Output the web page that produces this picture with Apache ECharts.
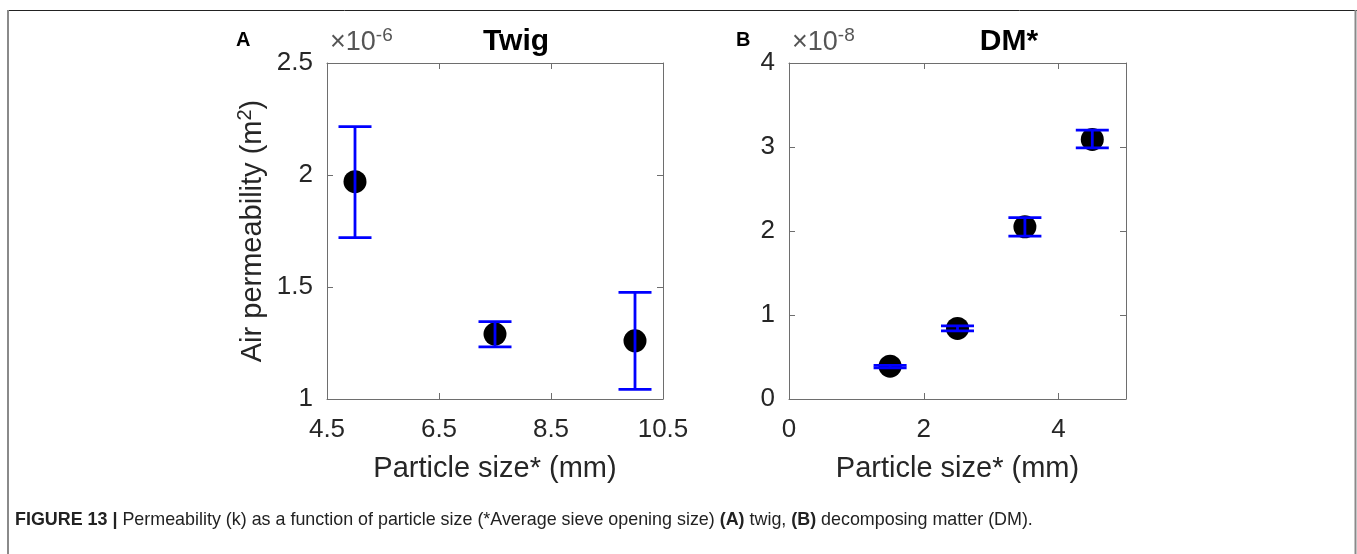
<!DOCTYPE html>
<html><head><meta charset="utf-8">
<script src="https://cdn.jsdelivr.net/npm/echarts@6/dist/echarts.min.js"></script>
<style>html,body{margin:0;padding:0;background:#fff}#c{width:1357px;height:554px}</style>
</head><body><div id="c"></div>
<script>
// Panel A: Twig (values ×10^-6 m²)
const twigX = [5, 7.5, 10];
const twigY = [1.97, 1.29, 1.26];
const twigLo = [1.72, 1.233, 1.043];
const twigHi = [2.216, 1.345, 1.476];
// Panel B: DM* (values ×10^-8 m²)
const dmX = [1.5, 2.5, 3.5, 4.5];
const dmY = [0.39, 0.84, 2.05, 3.09];
const dmLo = [0.37, 0.81, 1.94, 2.99];
const dmHi = [0.40, 0.87, 2.16, 3.20];
// Tick labels
const twigXTicks = [4.5, 6.5, 8.5, 10.5];
const twigYTicks = [1, 1.5, 2, 2.5];
const dmXTicks = [0, 2, 4];
const dmYTicks = [0, 1, 2, 3, 4];

const FONT = 'Liberation Sans, Arial, sans-serif';
const TXT = '#262626';
const AXC = '#6e6e6e';

function axis(kind, grid, pos, min, max, ticks, showLabel, name) {
  const a = {
    type: 'value', gridIndex: grid, position: pos, min: min, max: max,
    axisLine: {show: true, onZero: false, lineStyle: {color: AXC, width: 1}},
    axisTick: {show: true, inside: true, length: 6, customValues: ticks, lineStyle: {color: AXC}},
    axisLabel: {show: showLabel, customValues: ticks, fontFamily: FONT, fontSize: 26, color: TXT,
                margin: kind === 'x' ? 18 : 14},
    splitLine: {show: false}
  };
  if (name) {
    a.name = name.text;
    a.nameLocation = 'middle';
    a.nameGap = name.gap;
    a.nameTextStyle = {fontFamily: FONT, fontSize: 29, color: TXT, rich: name.rich};
  }
  return a;
}

const yName = {
  text: '{a|Air permeability (m}{s|2}{a|)}', gap: 56,
  rich: {a: {fontFamily: FONT, fontSize: 29, color: TXT, lineHeight: 36},
         s: {fontFamily: FONT, fontSize: 20, color: TXT, verticalAlign: 'top', lineHeight: 36}}
};
const xName = {text: 'Particle size* (mm)', gap: 55};

function errItem(params, api) {
  const x = api.value(0), l = api.value(1), h = api.value(2);
  const pl = api.coord([x, l]), ph = api.coord([x, h]);
  const w = 16.5;
  const st = {stroke: '#0000ff', lineWidth: 2.8, fill: null};
  return {type: 'group', children: [
    {type: 'line', shape: {x1: pl[0], y1: pl[1], x2: ph[0], y2: ph[1]}, style: st},
    {type: 'line', shape: {x1: pl[0] - w, y1: pl[1], x2: pl[0] + w, y2: pl[1]}, style: st},
    {type: 'line', shape: {x1: ph[0] - w, y1: ph[1], x2: ph[0] + w, y2: ph[1]}, style: st}
  ]};
}

const supRich = {
  a: {fontFamily: FONT, fontSize: 27, fill: '#555', lineHeight: 34},
  s: {fontFamily: FONT, fontSize: 19, fill: '#555', verticalAlign: 'top', lineHeight: 34}
};
const capFont = 'Liberation Sans, Arial, sans-serif';

const chart = echarts.init(document.getElementById('c'), null, {renderer: 'canvas'});
chart.setOption({
  animation: false,
  backgroundColor: '#fff',
  title: [
    {text: 'Twig', left: 511, top: 22, textAlign: 'center',
     textStyle: {fontFamily: FONT, fontSize: 30, fontWeight: 'bold', color: '#000'}},
    {text: 'DM*', left: 1004, top: 22, textAlign: 'center',
     textStyle: {fontFamily: FONT, fontSize: 30, fontWeight: 'bold', color: '#000'}}
  ],
  grid: [
    {left: 327, top: 63, width: 336, height: 336, containLabel: false},
    {left: 789, top: 63, width: 337, height: 336, containLabel: false}
  ],
  xAxis: [
    axis('x', 0, 'bottom', 4.5, 10.5, twigXTicks, true, xName),
    axis('x', 0, 'top', 4.5, 10.5, twigXTicks, false),
    axis('x', 1, 'bottom', 0, 5, dmXTicks, true, xName),
    axis('x', 1, 'top', 0, 5, dmXTicks, false)
  ],
  yAxis: [
    axis('y', 0, 'left', 1, 2.5, twigYTicks, true, yName),
    axis('y', 0, 'right', 1, 2.5, twigYTicks, false),
    axis('y', 1, 'left', 0, 4, dmYTicks, true),
    axis('y', 1, 'right', 0, 4, dmYTicks, false)
  ],
  series: [
    {type: 'scatter', xAxisIndex: 0, yAxisIndex: 0, symbolSize: 23, itemStyle: {color: '#000', opacity: 1},
     data: twigX.map((x, i) => [x, twigY[i]]), z: 2},
    {type: 'custom', xAxisIndex: 0, yAxisIndex: 0, renderItem: errItem, encode: {x: 0, y: [1, 2]},
     data: twigX.map((x, i) => [x, twigLo[i], twigHi[i]]), z: 3},
    {type: 'scatter', xAxisIndex: 2, yAxisIndex: 2, symbolSize: 23, itemStyle: {color: '#000', opacity: 1},
     data: dmX.map((x, i) => [x, dmY[i]]), z: 2},
    {type: 'custom', xAxisIndex: 2, yAxisIndex: 2, renderItem: errItem, encode: {x: 0, y: [1, 2]},
     data: dmX.map((x, i) => [x, dmLo[i], dmHi[i]]), z: 3}
  ],
  graphic: [
    {type: 'line', shape: {x1: 7, y1: 10.5, x2: 1357, y2: 10.5}, style: {stroke: '#222', lineWidth: 1}},
    {type: 'line', shape: {x1: 8, y1: 10, x2: 8, y2: 554}, style: {stroke: '#8a8a8a', lineWidth: 2}},
    {type: 'line', shape: {x1: 1355.5, y1: 10, x2: 1355.5, y2: 554}, style: {stroke: '#8a8a8a', lineWidth: 2}},
    {type: 'text', left: 236, top: 30, style: {text: 'A', fontFamily: FONT, fontSize: 20, fontWeight: 'bold', fill: '#000'}},
    {type: 'text', left: 736, top: 30, style: {text: 'B', fontFamily: FONT, fontSize: 20, fontWeight: 'bold', fill: '#000'}},
    {type: 'text', left: 330, top: 26, style: {text: '{a|×10}{s|-6}', rich: supRich}},
    {type: 'text', left: 792, top: 26, style: {text: '{a|×10}{s|-8}', rich: supRich}},
    {type: 'text', left: 15, top: 511, style: {
      text: '{b|FIGURE 13 | }{n|Permeability (k) as a function of particle size (*Average sieve opening size) }{b|(A)}{n| twig, }{b|(B)}{n| decomposing matter (DM).}',
      rich: {
        b: {fontFamily: capFont, fontSize: 17.9, fontWeight: 'bold', fill: '#222'},
        n: {fontFamily: capFont, fontSize: 17.9, fill: '#222'}
      }}}
  ]
});
</script></body></html>
